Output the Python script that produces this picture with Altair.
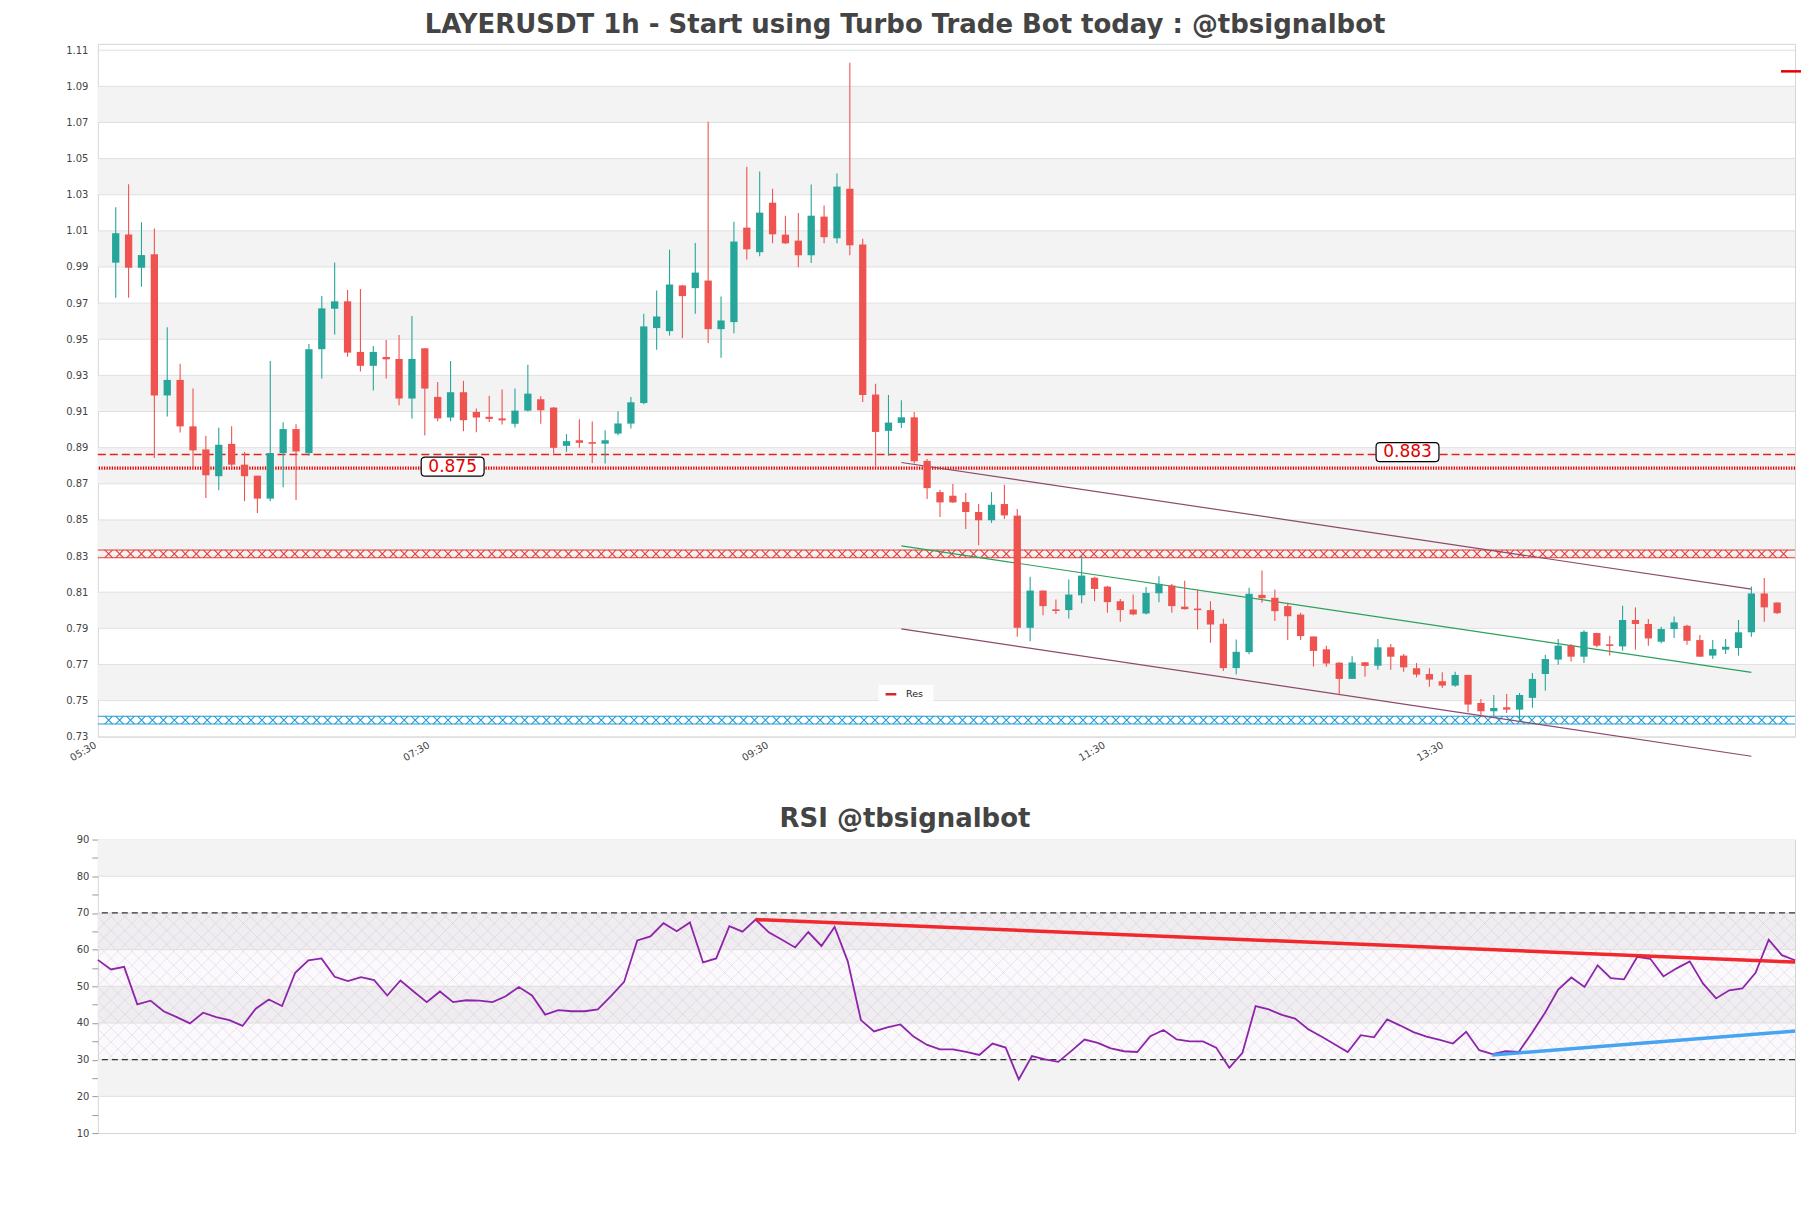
import altair as alt
import pandas as pd
import numpy as np

TITLE = "LAYERUSDT 1h - Start using Turbo Trade Bot today : @tbsignalbot"
RSI_TITLE = "RSI @tbsignalbot"

OPEN = [0.9924, 1.0080, 0.9896, 0.9971, 0.9189, 0.9275, 0.9018, 0.8890, 0.8742, 0.8921,
        0.8806, 0.8745, 0.8618, 0.8870, 0.9003, 0.8870, 0.9445, 0.9669, 0.9710, 0.9430,
        0.9353, 0.9402, 0.9391, 0.9172, 0.9450, 0.9181, 0.9067, 0.9207, 0.9098, 0.9071,
        0.9062, 0.9032, 0.9105, 0.9168, 0.9122, 0.8910, 0.8941, 0.8930, 0.8922, 0.8978,
        0.9033, 0.9147, 0.9562, 0.9545, 0.9798, 0.9783, 0.9825, 0.9556, 0.9595, 1.0118,
        0.9982, 1.0256, 1.0079, 1.0046, 0.9965, 1.0179, 1.0059, 1.0333, 1.0024, 0.9194,
        0.8993, 0.9037, 0.9068, 0.8827, 0.8654, 0.8634, 0.8599, 0.8544, 0.8498, 0.8588,
        0.8524, 0.7903, 0.8109, 0.8004, 0.8001, 0.8083, 0.8180, 0.8131, 0.8050, 0.8004,
        0.7982, 0.8094, 0.8137, 0.8020, 0.8008, 0.8001, 0.7925, 0.7680, 0.7768, 0.8085,
        0.8069, 0.8023, 0.7976, 0.7855, 0.7784, 0.7710, 0.7620, 0.7712, 0.7693, 0.7795,
        0.7749, 0.7679, 0.7647, 0.7607, 0.7583, 0.7642, 0.7487, 0.7441, 0.7463, 0.7450,
        0.7515, 0.7647, 0.7727, 0.7804, 0.7743, 0.7874, 0.7810, 0.7800, 0.7946, 0.7924,
        0.7826, 0.7896, 0.7914, 0.7835, 0.7749, 0.7782, 0.7791, 0.7878, 0.8093, 0.8043]
HIGH = [1.0231, 1.0358, 1.0148, 1.0113, 0.9566, 0.9364, 0.9227, 0.8966, 0.9010, 0.9018,
        0.8876, 0.8745, 0.9380, 0.9041, 0.9030, 0.9474, 0.9739, 0.9925, 0.9773, 0.9778,
        0.9463, 0.9496, 0.9524, 0.9629, 0.9450, 0.9264, 0.9380, 0.9270, 0.9117, 0.9188,
        0.9222, 0.9227, 0.9359, 0.9185, 0.9125, 0.8975, 0.9057, 0.9045, 0.8996, 0.9102,
        0.9181, 0.9641, 0.9770, 0.9996, 0.9800, 1.0033, 1.0704, 0.9737, 1.0151, 1.0455,
        1.0429, 1.0333, 1.0184, 1.0199, 1.0356, 1.0240, 1.0418, 1.1030, 1.0057, 0.9254,
        0.9192, 0.9162, 0.9098, 0.8837, 0.8667, 0.8699, 0.8649, 0.8588, 0.8654, 0.8695,
        0.8560, 0.8185, 0.8110, 0.8060, 0.8170, 0.8303, 0.8185, 0.8135, 0.8063, 0.8087,
        0.8129, 0.8188, 0.8146, 0.8164, 0.8115, 0.8050, 0.7953, 0.7838, 0.8124, 0.8220,
        0.8115, 0.8041, 0.7986, 0.7856, 0.7804, 0.7712, 0.7746, 0.7714, 0.7841, 0.7813,
        0.7758, 0.7708, 0.7679, 0.7657, 0.7660, 0.7643, 0.7509, 0.7531, 0.7537, 0.7542,
        0.7653, 0.7754, 0.7841, 0.7813, 0.7890, 0.7875, 0.7859, 0.8025, 0.8016, 0.7951,
        0.7909, 0.7966, 0.7920, 0.7863, 0.7835, 0.7841, 0.7946, 0.8132, 0.8178, 0.8043]
LOW = [0.9730, 0.9730, 0.9791, 0.8843, 0.9073, 0.8984, 0.8787, 0.8622, 0.8664, 0.8787,
       0.8604, 0.8539, 0.8604, 0.8681, 0.8610, 0.8855, 0.9283, 0.9526, 0.9404, 0.9322,
       0.9216, 0.9283, 0.9135, 0.9062, 0.8968, 0.9046, 0.9046, 0.8991, 0.8986, 0.9042,
       0.9028, 0.9012, 0.9100, 0.9032, 0.8868, 0.8877, 0.8899, 0.8815, 0.8812, 0.8969,
       0.9006, 0.9140, 0.9442, 0.9520, 0.9507, 0.9641, 0.9479, 0.9398, 0.9534, 0.9941,
       0.9960, 1.0031, 1.0028, 0.9899, 0.9922, 1.0031, 1.0031, 0.9965, 0.9153, 0.8794,
       0.8855, 0.9009, 0.8812, 0.8616, 0.8516, 0.8594, 0.8450, 0.8360, 0.8483, 0.8505,
       0.7853, 0.7829, 0.7973, 0.7980, 0.7955, 0.8039, 0.8050, 0.7986, 0.7936, 0.7973,
       0.7977, 0.8045, 0.7986, 0.8004, 0.7894, 0.7820, 0.7664, 0.7645, 0.7756, 0.8041,
       0.7940, 0.7835, 0.7835, 0.7688, 0.7688, 0.7530, 0.7620, 0.7632, 0.7671, 0.7671,
       0.7660, 0.7629, 0.7577, 0.7570, 0.7577, 0.7436, 0.7417, 0.7413, 0.7432, 0.7389,
       0.7460, 0.7555, 0.7699, 0.7717, 0.7708, 0.7795, 0.7749, 0.7776, 0.7782, 0.7804,
       0.7817, 0.7846, 0.7809, 0.7743, 0.7730, 0.7758, 0.7749, 0.7854, 0.7936, 0.7979]
CLOSE = [1.0087, 0.9896, 0.9966, 0.9189, 0.9275, 0.9018, 0.8885, 0.8747, 0.8916, 0.8806,
         0.8742, 0.8618, 0.8870, 0.9003, 0.8879, 0.9445, 0.9671, 0.9710, 0.9426, 0.9353,
         0.9430, 0.9389, 0.9172, 0.9391, 0.9227, 0.9062, 0.9207, 0.9052, 0.9067, 0.9059,
         0.9051, 0.9105, 0.9199, 0.9107, 0.8899, 0.8936, 0.8927, 0.8922, 0.8941, 0.9034,
         0.9151, 0.9571, 0.9626, 0.9803, 0.9739, 0.9869, 0.9556, 0.9604, 1.0041, 0.9998,
         1.0201, 1.0081, 1.0031, 0.9965, 1.0184, 1.0065, 1.0345, 1.0020, 0.9192, 0.8987,
         0.9039, 0.9068, 0.8825, 0.8676, 0.8597, 0.8597, 0.8544, 0.8498, 0.8584, 0.8525,
         0.7903, 0.8109, 0.8023, 0.7997, 0.8087, 0.8192, 0.8118, 0.8045, 0.8001, 0.7977,
         0.8096, 0.8146, 0.8023, 0.8006, 0.8002, 0.7921, 0.7680, 0.7770, 0.8091, 0.8067,
         0.7995, 0.7967, 0.7857, 0.7775, 0.7705, 0.7620, 0.7711, 0.7692, 0.7795, 0.7743,
         0.7684, 0.7644, 0.7616, 0.7583, 0.7642, 0.7478, 0.7441, 0.7459, 0.7450, 0.7531,
         0.7620, 0.7730, 0.7804, 0.7743, 0.7881, 0.7804, 0.7804, 0.7946, 0.7924, 0.7844,
         0.7896, 0.7933, 0.7831, 0.7743, 0.7785, 0.7798, 0.7878, 0.8093, 0.8016, 0.7984]

RSI = [57.2, 54.6, 55.3, 45.1, 46.1, 43.2, 41.6, 39.9, 42.8, 41.6,
       40.8, 39.2, 43.9, 46.4, 44.6, 53.7, 57.1, 57.6, 52.6, 51.4,
       52.5, 51.7, 47.5, 51.6, 48.6, 45.7, 48.6, 45.7, 46.2, 46.1,
       45.7, 47.3, 49.8, 47.5, 42.3, 43.5, 43.2, 43.2, 43.7, 47.3,
       51.2, 62.5, 63.6, 67.2, 65.0, 67.4, 56.5, 57.6, 66.4, 64.9,
       68.2, 64.7, 62.7, 60.6, 64.8, 61.0, 66.2, 56.8, 40.8, 37.7,
       38.8, 39.6, 36.3, 34.1, 32.8, 32.8, 32.1, 31.3, 34.4, 33.3,
       24.6, 31.0, 30.1, 29.4, 32.4, 35.5, 34.6, 33.1, 32.3, 32.1,
       36.4, 38.1, 35.5, 35.0, 35.0, 33.3, 27.8, 31.9, 44.6, 43.7,
       42.2, 41.2, 38.3, 36.3, 34.2, 32.1, 36.7, 36.1, 41.0, 39.3,
       37.5, 36.3, 35.4, 34.4, 37.6, 32.6, 31.5, 32.3, 32.1, 37.3,
       42.8, 49.1, 52.4, 49.8, 55.7, 52.2, 51.9, 58.0, 57.5, 52.7,
       54.9, 56.8, 50.8, 46.7, 48.9, 49.4, 53.7, 62.7, 58.5, 57.1]

TICK_POS = [-1, 24.1, 50.4, 76.55, 102.8]
TICK_LABELS = ["05:30", "07:30", "09:30", "11:30", "13:30"]
PRICE_TICKS = [0.73, 0.75, 0.77, 0.79, 0.81, 0.83, 0.85, 0.87, 0.89, 0.91,
               0.93, 0.95, 0.97, 0.99, 1.01, 1.03, 1.05, 1.07, 1.09, 1.11]
PRICE_BAND_LO = [0.75, 0.79, 0.83, 0.87, 0.91, 0.95, 0.99, 1.03, 1.07]
PRICE_BAND_HI = [0.77, 0.81, 0.85, 0.89, 0.93, 0.97, 1.01, 1.05, 1.09]

LEVEL_DASHED = 0.8862
LEVEL_DOTTED = 0.8787
ZONES = [0.8312, 0.7392]
ZONE_COLORS = ["#e53935", "#1e9ad6"]
ZONE_HALF = 0.00213

LABEL_TEXT = ["0.875", "0.883"]
LABEL_X = [26.16, 100.3]
LABEL_Y = [0.8795, 0.8875]

CH_X = [61.0, 127.0]
CH_UPPER = [0.8818, 0.8117]
CH_MID = [0.8356, 0.7656]
CH_LOWER = [0.7897, 0.7192]
CH_COLORS = ["#8c4a6c", "#2ca05a", "#8c4a6c"]

LEGEND_LABEL = "Res"
LEGEND_X = [61.36, 60.19, 61.37]
LEGEND_Y = 0.7535

MARK_X = [129.3, 130.85]
MARK_Y = 1.0983

RSI_TICKS = [10, 15, 20, 25, 30, 35, 40, 45, 50, 55, 60, 65, 70, 75, 80, 85, 90]
RSI_BAND_LO = [20, 40, 60, 80]
RSI_BAND_HI = [30, 50, 70, 90]
RSI_GRID = [20, 30, 40, 50, 60, 70, 80]
RSI_LEVELS = [70, 30]
RSI_RED_X = [50, 129]
RSI_RED_Y = [68.2, 56.6]
RSI_BLUE_X = [106, 129]
RSI_BLUE_Y = [31.3, 37.8]

W, H1, H2 = 1700, 694, 294
FONT = "DejaVu Sans"
MAIN_TITLE_OFFSET = -15.5
RSI_TITLE_OFFSET = -18

# ---------------- main price chart ----------------
def label_expr(pos, labels):
    expr = f"'{labels[-1]}'"
    for k in range(len(pos) - 2, -1, -1):
        mid = (pos[k] + pos[k + 1]) / 2
        expr = f"datum.value < {mid} ? '{labels[k]}' : ({expr})"
    return expr

x_scale = alt.Scale(domain=[-1, 130], nice=False, zero=False)
y_scale = alt.Scale(domain=[0.73, 1.1135], nice=False, zero=False)
x_axis = alt.Axis(values=TICK_POS, labelExpr=label_expr(TICK_POS, TICK_LABELS),
                  labelAngle=330, labelAlign="right", labelBaseline="top",
                  labelFontSize=10, labelColor="#444", labelFont=FONT,
                  ticks=False, domain=False, grid=False, labelPadding=3,
                  labelOffset={"condition": {"test": "datum.value < 0", "value": -10}, "value": 0},
                  labelFlush=False, labelOverlap=False, title=None)
y_axis = alt.Axis(values=PRICE_TICKS, format=".2f", labelFontSize=10, labelColor="#444",
                  labelFont=FONT, ticks=False, domain=False, grid=False, labelPadding=10,
                  minExtent=89, maxExtent=89, title=None)


def X(f):
    return alt.X(f, type="quantitative", scale=x_scale, axis=x_axis)


def Y(f):
    return alt.Y(f, type="quantitative", scale=y_scale, axis=y_axis)


bands = alt.Chart(pd.DataFrame({"lo": PRICE_BAND_LO, "hi": PRICE_BAND_HI})).mark_rect(
    color="#f3f3f3").encode(x=alt.value(0), x2=alt.value(W), y=Y("lo"), y2="hi")
grid = alt.Chart(pd.DataFrame({"v": PRICE_TICKS})).mark_rule(
    color="#e0e0e0", strokeWidth=1).encode(y=Y("v"))

zone_rows = []
for lvl, col in zip(ZONES, ZONE_COLORS):
    zone_rows.append({"v": lvl - ZONE_HALF, "col": col})
    zone_rows.append({"v": lvl + ZONE_HALF, "col": col})
zone_lines = alt.Chart(pd.DataFrame(zone_rows)).mark_rule(strokeWidth=1).encode(
    y=Y("v"), color=alt.Color("col:N", scale=None))
hatch_pos = np.arange(-0.55, 129.8, 0.85)
zone_pts = pd.DataFrame([{"i": float(x), "v": lvl, "col": col}
                         for lvl, col in zip(ZONES, ZONE_COLORS) for x in hatch_pos])
zone_x = alt.Chart(zone_pts).mark_point(
    shape="M-1,-1L1,1M-1,1L1,-1", size=62, strokeWidth=1.05, filled=False, opacity=1).encode(
    x=X("i"), y=Y("v"), color=alt.Color("col:N", scale=None))

dashed = alt.Chart(pd.DataFrame({"v": [LEVEL_DASHED]})).mark_rule(
    color="#e3211f", strokeDash=[8, 4], strokeWidth=1.4).encode(y=Y("v"))
dotted = alt.Chart(pd.DataFrame({"v": [LEVEL_DOTTED]})).mark_rule(
    color="#e60000", strokeDash=[1.3, 1.3], strokeWidth=3.2).encode(y=Y("v"))

ch_df = pd.DataFrame({"x": [CH_X[0]] * 3, "x2": [CH_X[1]] * 3,
                      "y": [CH_UPPER[0], CH_MID[0], CH_LOWER[0]],
                      "y2": [CH_UPPER[1], CH_MID[1], CH_LOWER[1]],
                      "col": CH_COLORS})
channels = alt.Chart(ch_df).mark_rule(strokeWidth=1.2).encode(
    x=X("x"), x2="x2", y=Y("y"), y2="y2", color=alt.Color("col:N", scale=None))

n = len(OPEN)
cdf = pd.DataFrame({"i": list(range(n)), "o": OPEN, "h": HIGH, "l": LOW, "c": CLOSE})
cdf["dir"] = np.where(cdf["c"] >= cdf["o"], "up", "down")
ccolor = alt.Color("dir:N", scale=alt.Scale(domain=["up", "down"], range=["#26a69a", "#ef5350"]),
                   legend=None)
cbase = alt.Chart(cdf).transform_calculate(
    top="max(datum.o, datum.c)", bot="min(datum.o, datum.c)"
).transform_calculate(
    top2="datum.top - datum.bot < 0.0009 ? (datum.top + datum.bot) / 2 + 0.00045 : datum.top",
    bot2="datum.top - datum.bot < 0.0009 ? (datum.top + datum.bot) / 2 - 0.00045 : datum.bot",
)
wicks = cbase.mark_rule(strokeWidth=1.1).encode(x=X("i"), y=Y("l"), y2="h", color=ccolor)
bodies = cbase.mark_bar(size=7.3).encode(x=X("i"), y=Y("bot2:Q"), y2="top2:Q", color=ccolor)

BOX_PATH = ("M-0.873,-0.302L0.873,-0.302Q1,-0.302 1,-0.175L1,0.175Q1,0.302 0.873,0.302"
            "L-0.873,0.302Q-1,0.302 -1,0.175L-1,-0.175Q-1,-0.302 -0.873,-0.302Z")
lab_df = pd.DataFrame({"x": LABEL_X, "y": LABEL_Y, "t": LABEL_TEXT})
lab_box = alt.Chart(lab_df).mark_point(
    shape=BOX_PATH, size=3969, filled=True, fill="white", stroke="black",
    strokeWidth=1.2, opacity=1, fillOpacity=1, strokeOpacity=1).encode(x=X("x"), y=Y("y"))
lab_text = alt.Chart(lab_df).mark_text(
    color="#e00000", fontSize=17, font=FONT, align="center", baseline="middle").encode(
    x=X("x"), y=Y("y"), text="t:N")

LEG_BOX = "M-1,-0.32L1,-0.32L1,0.32L-1,0.32Z"
leg_box = alt.Chart(pd.DataFrame({"x": [LEGEND_X[0]], "y": [LEGEND_Y]})).mark_point(
    shape=LEG_BOX, size=2809, filled=True, fill="white", stroke="white", opacity=0.9).encode(
    x=X("x"), y=Y("y"))
leg_line = alt.Chart(pd.DataFrame({"x": [LEGEND_X[1]], "y": [LEGEND_Y]})).mark_point(
    shape="M-1,0L1,0", size=115, filled=False, stroke="#d62728", strokeWidth=2.5, opacity=1).encode(
    x=X("x"), y=Y("y"))
leg_text = alt.Chart(pd.DataFrame({"x": [LEGEND_X[2]], "y": [LEGEND_Y], "t": [LEGEND_LABEL]})).mark_text(
    color="#222", fontSize=9.5, font=FONT, align="left", baseline="middle").encode(
    x=X("x"), y=Y("y"), text="t:N")

mark = alt.Chart(pd.DataFrame({"x": [MARK_X[0]], "x2": [MARK_X[1]], "y": [MARK_Y]})).mark_rule(
    color="#e60000", strokeWidth=2.5).encode(x=X("x"), x2="x2", y=Y("y"))

main = alt.layer(
    bands, grid, zone_lines, zone_x, dashed, dotted, channels, wicks, bodies,
    lab_box, lab_text, leg_box, leg_line, leg_text, mark
).properties(
    width=W, height=H1,
    title=alt.TitleParams(text=TITLE, fontSize=26, font=FONT, fontWeight="bold", color="#444",
                          anchor="middle", dx=-41.5, offset=MAIN_TITLE_OFFSET, baseline="alphabetic",
                          frame="group"),
)

# ---------------- RSI chart ----------------
rx_scale = alt.Scale(domain=[0, 129], nice=False, zero=False)
ry_scale = alt.Scale(domain=[10, 90], nice=False, zero=False)
ry_axis = alt.Axis(values=RSI_TICKS, labelExpr="datum.value % 10 == 0 ? datum.label : ''",
                   labelFontSize=10, labelColor="#444", labelFont=FONT, tickSize=6,
                   tickColor="#999", domain=False, grid=False, labelPadding=3,
                   minExtent=89, maxExtent=89, title=None)


def RX(f):
    return alt.X(f, type="quantitative", scale=rx_scale, axis=None)


def RY(f):
    return alt.Y(f, type="quantitative", scale=ry_scale, axis=ry_axis)


r_bands = alt.Chart(pd.DataFrame({"lo": RSI_BAND_LO, "hi": RSI_BAND_HI})).mark_rect(
    color="#f3f3f3").encode(x=alt.value(0), x2=alt.value(W), y=RY("lo"), y2="hi")
r_tint = alt.Chart(pd.DataFrame({"lo": [30], "hi": [70]})).mark_rect(
    color="#9c5fb5", opacity=0.035).encode(x=alt.value(0), x2=alt.value(W), y=RY("lo"), y2="hi")
h0 = np.arange(-12.0, 130.0, 1.06)
span = 11.15
hatch_df = pd.concat([
    pd.DataFrame({"x": h0, "x2": h0 + span, "y": 30.0, "y2": 70.0}),
    pd.DataFrame({"x": h0, "x2": h0 + span, "y": 70.0, "y2": 30.0}),
])
r_hatch = alt.Chart(hatch_df).mark_rule(color="#c9b6d6", strokeWidth=0.5, opacity=0.7, clip=True).encode(
    x=RX("x"), x2="x2", y=RY("y"), y2="y2")
r_grid = alt.Chart(pd.DataFrame({"v": RSI_GRID})).mark_rule(color="#e0e0e0").encode(y=RY("v"))
r_levels = alt.Chart(pd.DataFrame({"v": RSI_LEVELS})).mark_rule(
    color="#333", strokeDash=[6, 4], strokeWidth=1.2).encode(y=RY("v"))
r_line = alt.Chart(pd.DataFrame({"i": list(range(len(RSI))), "r": RSI})).mark_line(
    color="#8e24aa", strokeWidth=1.8).encode(x=RX("i"), y=RY("r"))
r_trend = alt.Chart(pd.DataFrame({
    "x": [RSI_RED_X[0], RSI_BLUE_X[0]], "x2": [RSI_RED_X[1], RSI_BLUE_X[1]],
    "y": [RSI_RED_Y[0], RSI_BLUE_Y[0]], "y2": [RSI_RED_Y[1], RSI_BLUE_Y[1]],
    "col": ["#f01e23", "#3d9ff0"]})).mark_rule(strokeWidth=3.5, opacity=0.95).encode(
    x=RX("x"), x2="x2", y=RY("y"), y2="y2", color=alt.Color("col:N", scale=None))

rsi = alt.layer(r_bands, r_tint, r_hatch, r_grid, r_levels, r_line, r_trend).properties(
    width=W, height=H2,
    title=alt.TitleParams(text=RSI_TITLE, fontSize=26, font=FONT, fontWeight="bold", color="#444",
                          anchor="middle", dx=-41.5, offset=RSI_TITLE_OFFSET, baseline="alphabetic",
                          frame="group"),
)

chart = alt.vconcat(main, rsi, spacing=103, bounds="flush").properties(
    padding={"left": 0, "top": 3, "right": 0, "bottom": 0}
).configure(font=FONT).configure_view(stroke="#d6d6d6", strokeWidth=1)

chart.save("out.html", embed_options={"renderer": "svg", "actions": False})
